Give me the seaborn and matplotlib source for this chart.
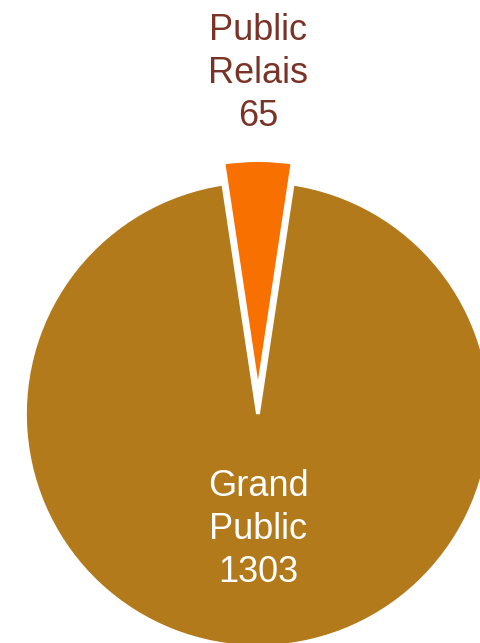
import seaborn as sns
import matplotlib.pyplot as plt
import numpy as np

# Data
categories = ['Public\nRelais', 'Grand\nPublic']
values = [65, 1303]
slice_colors = ['#F77000', '#B27A1A']
label_colors = ['#7B3328', 'white']

sns.set_style("white")
plt.rcParams['font.family'] = ['Liberation Sans', 'DejaVu Sans']

fig = plt.figure(figsize=(4.81, 6.43), dpi=100)
ax = fig.add_axes([0, 0, 1, 1])

total = sum(values)
start = 90 - 360 * values[0] / total / 2

wedges, texts = ax.pie(
    values,
    colors=slice_colors,
    startangle=start,
    explode=[0.09, 0],
    labels=[f'{c}\n{v}' for c, v in zip(categories, values)],
    wedgeprops=dict(edgecolor='white', linewidth=2.8),
    textprops=dict(fontsize=26, ha='center', va='center', linespacing=1.3),
)

# label placement (one outside, one inside)
texts[0].set_position((0, 1.462))
texts[1].set_position((0, -0.497))
for t, col in zip(texts, label_colors):
    t.set_color(col)

ax.set_xlim(-1.107, 0.957)
ax.set_ylim(-0.983, 1.777)
ax.set_aspect('auto')
ax.axis('off')

plt.savefig('out.png', dpi=100)
